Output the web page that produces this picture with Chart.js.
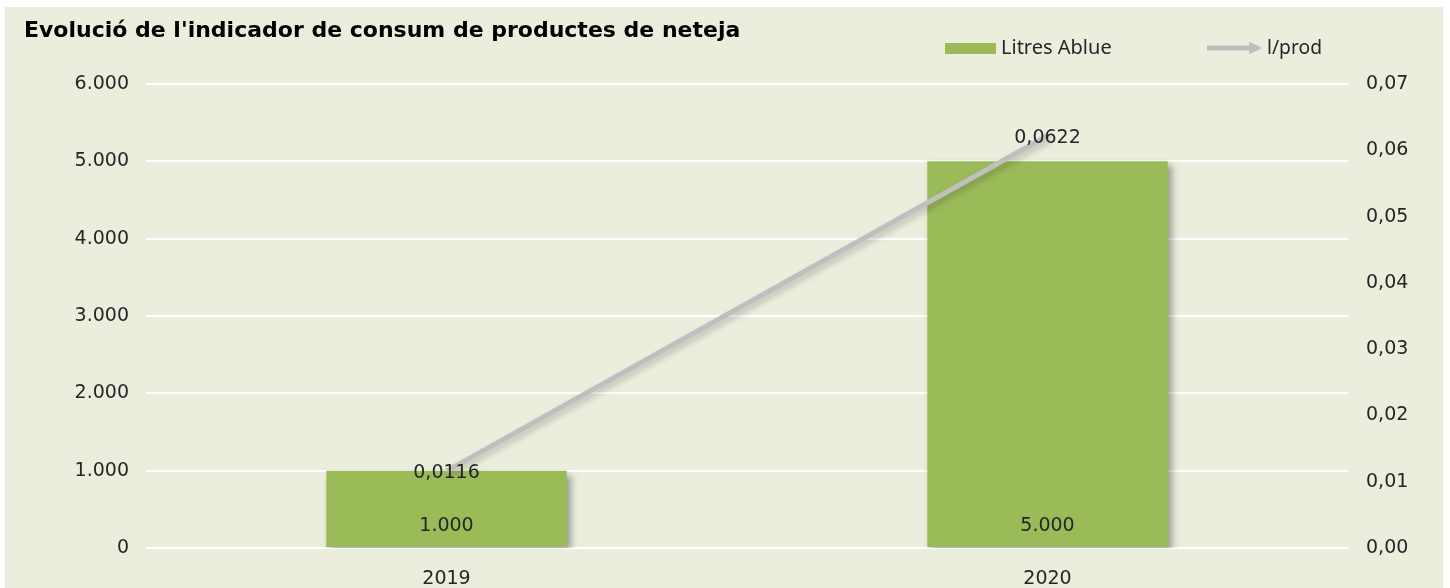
<!DOCTYPE html>
<html>
<head>
<meta charset="utf-8">
<script src="https://cdn.jsdelivr.net/npm/chart.js@4"></script>
<style>
  html, body { margin: 0; padding: 0; background: #fff; }
  #wrap { position: absolute; left: 5px; top: 7px; width: 1438px; height: 581px; background: #ebeedd; }
</style>
</head>
<body>
<div id="wrap"><canvas id="grafic"></canvas></div>
<script>
// dades del gràfic
const anys = ['2019', '2020'];
const litresAblue = [1000, 5000];
const litresPerProd = [0.0116, 0.0622];
const ticksLitres = [0, 1000, 2000, 3000, 4000, 5000, 6000];
const ticksRatio = [0, 0.01, 0.02, 0.03, 0.04, 0.05, 0.06, 0.07];

const titol = "Evolució de l'indicador de consum de productes de neteja";
const VERD = '#9bbb59';
const GRIS = '#bfbfbf';
const TEXT = '#262626';

// format català: punt de milers, coma decimal
function fmtMiles(v) {
    return String(Math.round(v)).replace(/\B(?=(\d{3})+(?!\d))/g, '.');
}
function fmtDec(v, d) {
    return Number(v).toFixed(d).replace('.', ',');
}

// ombres, etiquetes, títol i llegenda
const decoracio = {
    id: 'decoracio',
    beforeDatasetDraw(chart, args) {
        const ctx = chart.ctx;
        ctx.save();
        if (args.index === 0) {
            ctx.shadowColor = 'rgba(0, 0, 0, 0.35)';
            ctx.shadowBlur = 7;
            ctx.shadowOffsetX = 4;
            ctx.shadowOffsetY = 4;
        } else {
            ctx.shadowColor = 'rgba(0, 0, 0, 0.22)';
            ctx.shadowBlur = 6;
            ctx.shadowOffsetX = 3;
            ctx.shadowOffsetY = 3;
        }
    },
    afterDatasetDraw(chart) {
        chart.ctx.restore();
    },
    afterDatasetsDraw(chart) {
        const ctx = chart.ctx;
        ctx.save();
        ctx.font = '19px "DejaVu Sans"';
        ctx.fillStyle = TEXT;
        ctx.textAlign = 'center';
        ctx.textBaseline = 'middle';
        // valors de les barres, a la base
        chart.getDatasetMeta(0).data.forEach((el, i) => {
            ctx.fillText(fmtMiles(litresAblue[i]), el.x, el.base - 21);
        });
        // valors de la línia, centrats al punt
        chart.getDatasetMeta(1).data.forEach((el, i) => {
            ctx.fillText(fmtDec(litresPerProd[i], 4), el.x, el.y + 2);
        });
        ctx.restore();
    },
    afterDraw(chart) {
        const ctx = chart.ctx;
        ctx.save();
        // títol
        ctx.font = 'bold 22px "DejaVu Sans"';
        ctx.fillStyle = '#000';
        ctx.textAlign = 'left';
        ctx.textBaseline = 'alphabetic';
        ctx.fillText(titol, 19, 30, 726);

        // llegenda
        ctx.textBaseline = 'middle';
        ctx.font = '20px "Noto Sans"';
        ctx.fillStyle = VERD;
        ctx.fillRect(940, 36, 51, 11);
        ctx.fillStyle = TEXT;
        ctx.fillText(chart.data.datasets[0].label, 996, 41, 112);

        ctx.fillStyle = GRIS;
        ctx.fillRect(1202, 38.5, 44, 5);
        ctx.beginPath();
        ctx.moveTo(1244, 34.5);
        ctx.lineTo(1257, 41);
        ctx.lineTo(1244, 47.5);
        ctx.closePath();
        ctx.fill();
        ctx.fillStyle = TEXT;
        ctx.fillText(chart.data.datasets[1].label, 1262, 41, 55);
        ctx.restore();
    }
};

const fontEix = { family: 'DejaVu Sans', size: 19 };

new Chart(document.getElementById('grafic'), {
    type: 'bar',
    data: {
        labels: anys,
        datasets: [
            {
                label: 'Litres Ablue',
                data: litresAblue,
                backgroundColor: VERD,
                categoryPercentage: 1,
                barPercentage: 0.4,
                yAxisID: 'y',
                order: 1
            },
            {
                type: 'line',
                label: 'l/prod',
                data: litresPerProd,
                borderColor: GRIS,
                borderWidth: 5,
                pointRadius: 0,
                tension: 0,
                yAxisID: 'y1',
                order: 0
            }
        ]
    },
    options: {
        responsive: true,
        maintainAspectRatio: false,
        animation: false,
        layout: { padding: { top: 77, left: 0, right: 0, bottom: 0 } },
        plugins: {
            legend: { display: false },
            title: { display: false },
            tooltip: { enabled: false }
        },
        scales: {
            x: {
                grid: { display: false },
                border: { display: false },
                ticks: { font: fontEix, color: TEXT, padding: 12 },
                afterFit(s) { s.height = 40; }
            },
            y: {
                position: 'left',
                min: 0,
                max: 6000,
                afterBuildTicks(s) { s.ticks = ticksLitres.map(v => ({ value: v })); },
                ticks: { font: fontEix, color: TEXT, padding: 17, callback: v => fmtMiles(v) },
                grid: { color: '#ffffff', lineWidth: 2, drawTicks: false },
                border: { display: false },
                afterFit(s) { s.width = 141; }
            },
            y1: {
                position: 'right',
                min: 0,
                max: 0.07,
                afterBuildTicks(s) { s.ticks = ticksRatio.map(v => ({ value: v })); },
                ticks: { font: fontEix, color: TEXT, padding: 18, callback: v => fmtDec(v, 2) },
                grid: { display: false, drawTicks: false },
                border: { display: false },
                afterFit(s) { s.width = 95; }
            }
        }
    },
    plugins: [decoracio]
});
</script>
</body>
</html>
